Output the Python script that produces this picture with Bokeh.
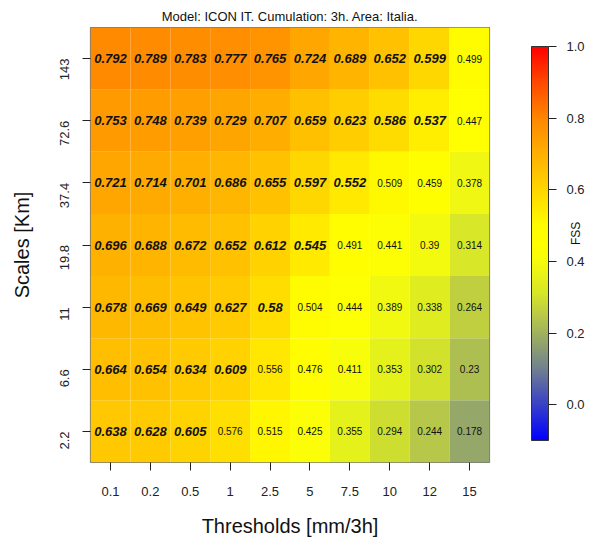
import math

from bokeh.core.properties import value
from bokeh.embed import file_html
from bokeh.models import (CategoricalAxis, ColorBar, ColumnDataSource,
                          FactorRange, FixedTicker, LinearColorMapper,
                          PrintfTickFormatter)
from bokeh.plotting import figure
from bokeh.resources import INLINE

# ---- data -----------------------------------------------------------------
thresholds = ["0.1", "0.2", "0.5", "1", "2.5", "5", "7.5", "10", "12", "15"]
scales = ["2.2", "6.6", "11", "19.8", "37.4", "72.6", "143"]  # bottom -> top

# FSS per scale (row), one value per threshold
fss_143 = [0.792, 0.789, 0.783, 0.777, 0.765, 0.724, 0.689, 0.652, 0.599, 0.499]
fss_72_6 = [0.753, 0.748, 0.739, 0.729, 0.707, 0.659, 0.623, 0.586, 0.537, 0.447]
fss_37_4 = [0.721, 0.714, 0.701, 0.686, 0.655, 0.597, 0.552, 0.509, 0.459, 0.378]
fss_19_8 = [0.696, 0.688, 0.672, 0.652, 0.612, 0.545, 0.491, 0.441, 0.390, 0.314]
fss_11 = [0.678, 0.669, 0.649, 0.627, 0.580, 0.504, 0.444, 0.389, 0.338, 0.264]
fss_6_6 = [0.664, 0.654, 0.634, 0.609, 0.556, 0.476, 0.411, 0.353, 0.302, 0.230]
fss_2_2 = [0.638, 0.628, 0.605, 0.576, 0.515, 0.425, 0.355, 0.294, 0.244, 0.178]

# 1 = skilful score (printed bold italic), 0 = not skilful
useful_143 = [1, 1, 1, 1, 1, 1, 1, 1, 1, 0]
useful_72_6 = [1, 1, 1, 1, 1, 1, 1, 1, 1, 0]
useful_37_4 = [1, 1, 1, 1, 1, 1, 1, 0, 0, 0]
useful_19_8 = [1, 1, 1, 1, 1, 1, 0, 0, 0, 0]
useful_11 = [1, 1, 1, 1, 1, 0, 0, 0, 0, 0]
useful_6_6 = [1, 1, 1, 1, 0, 0, 0, 0, 0, 0]
useful_2_2 = [1, 1, 1, 0, 0, 0, 0, 0, 0, 0]

rows = [fss_2_2, fss_6_6, fss_11, fss_19_8, fss_37_4, fss_72_6, fss_143]
useful_rows = [useful_2_2, useful_6_6, useful_11, useful_19_8, useful_37_4,
               useful_72_6, useful_143]

colorbar_title = "FSS"

# ---- colour scale ---------------------------------------------------------
z_low, z_high = -0.1, 1.0
anchors = [
    (-0.10, (0, 0, 255)),
    (0.10, (112, 128, 144)),
    (0.18, (150, 168, 104)),
    (0.24, (180, 196, 76)),
    (0.31, (214, 230, 40)),
    (0.40, (246, 252, 12)),
    (0.45, (255, 255, 0)),
    (0.50, (255, 252, 0)),
    (0.60, (255, 214, 0)),
    (0.70, (255, 176, 0)),
    (0.80, (255, 134, 0)),
    (0.90, (255, 72, 0)),
    (1.00, (255, 0, 0)),
]


def ramp(v):
    for (v0, c0), (v1, c1) in zip(anchors[:-1], anchors[1:]):
        if v <= v1:
            t = (v - v0) / (v1 - v0)
            return "#%02x%02x%02x" % tuple(round(a + (b - a) * t) for a, b in zip(c0, c1))
    return "#%02x%02x%02x" % anchors[-1][1]


n_col = 256
palette = [ramp(z_low + (z_high - z_low) * (i + 0.5) / n_col) for i in range(n_col)]
mapper = LinearColorMapper(palette=palette, low=z_low, high=z_high)

# ---- tidy table -----------------------------------------------------------
xs, ys, vals, strong = [], [], [], []
for s, row, urow in zip(scales, rows, useful_rows):
    for t, v, u in zip(thresholds, row, urow):
        xs.append(t)
        ys.append(s)
        vals.append(v)
        strong.append(u)

txt = ["%g" % v for v in vals]
src = ColumnDataSource(dict(x=xs, y=ys, fss=vals, label=txt))
src_bold = ColumnDataSource(dict(
    x=[x for x, u in zip(xs, strong) if u],
    y=[y for y, u in zip(ys, strong) if u],
    label=[l for l, u in zip(txt, strong) if u]))
src_plain = ColumnDataSource(dict(
    x=[x for x, u in zip(xs, strong) if not u],
    y=[y for y, u in zip(ys, strong) if not u],
    label=[l for l, u in zip(txt, strong) if not u]))

FONT = "Liberation Sans"

p = figure(width=592, height=539, output_backend="svg", toolbar_location=None,
           x_range=FactorRange(*thresholds, range_padding=0),
           y_range=FactorRange(*scales, range_padding=0),
           title="Model: ICON IT. Cumulation: 3h. Area: Italia.",
           min_border_left=90, min_border_right=103,
           min_border_top=27, min_border_bottom=77)

p.title.align = "center"
p.title.text_font = FONT
p.title.text_font_size = "13px"
p.title.text_font_style = "normal"
p.title.text_color = "#111111"
p.title.standoff = 7

p.rect(x="x", y="y", width=1, height=1, source=src,
       fill_color={"field": "fss", "transform": mapper}, line_color=None)

p.text(x="x", y="y", text="label", source=src_bold,
       text_align="center", text_baseline="middle",
       text_font=value(FONT), text_font_size="13px",
       text_font_style="bold italic", text_color="#111111")
p.text(x="x", y="y", text="label", source=src_plain,
       text_align="center", text_baseline="middle",
       text_font=value(FONT), text_font_size="10px",
       text_font_style="normal", text_color="#111111")

p.grid.visible = False
p.outline_line_color = "#7a7a7a"
p.outline_line_width = 1.2
p.background_fill_color = "white"

for ax in (p.xaxis[0], p.yaxis[0]):
    ax.axis_line_color = None
    ax.major_tick_out = 8
    ax.major_tick_in = 0
    ax.major_tick_line_color = "#222222"
    ax.minor_tick_line_color = None
    ax.major_label_text_font = FONT
    ax.major_label_text_font_size = "13px"
    ax.major_label_text_color = "#222222"
    ax.axis_label_text_font = FONT
    ax.axis_label_text_font_size = "20px"
    ax.axis_label_text_font_style = "normal"
    ax.axis_label_text_color = "#111111"

p.xaxis.axis_label = "Thresholds [mm/3h]"
p.xaxis.major_label_standoff = 16
p.xaxis.axis_label_standoff = 16
p.yaxis.axis_label = "Scales [Km]"
p.yaxis.major_label_orientation = math.pi / 2
p.yaxis.major_label_standoff = 18
p.yaxis.axis_label_standoff = 20

cbar = ColorBar(color_mapper=mapper, width=17, height=394,
                location=(42, 22), padding=0, margin=0,
                ticker=FixedTicker(ticks=[0.0, 0.2, 0.4, 0.6, 0.8, 1.0]),
                formatter=PrintfTickFormatter(format="%.1f"),
                major_tick_out=8, major_tick_in=0,
                major_tick_line_color="#222222",
                minor_tick_line_color=None,
                bar_line_color="#333333",
                label_standoff=10,
                major_label_text_font=FONT,
                major_label_text_font_size="13px",
                major_label_text_color="#222222",
                background_fill_color=None,
                border_line_color=None)
p.add_layout(cbar, "right")

# colour-bar caption: a bare right-hand categorical axis with one rotated label
p.extra_y_ranges = {"caption": FactorRange(colorbar_title)}
cap_axis = CategoricalAxis(y_range_name="caption",
                           major_label_orientation=math.pi / 2,
                           major_label_standoff=-12,
                           major_tick_out=0, major_tick_in=0,
                           major_label_text_font=FONT,
                           major_label_text_font_size="12px",
                           major_label_text_color="#111111",
                           axis_line_color=None,
                           major_tick_line_color=None,
                           minor_tick_line_color=None)
p.add_layout(cap_axis, "right")

open("out.html", "w").write(file_html(p, INLINE))
